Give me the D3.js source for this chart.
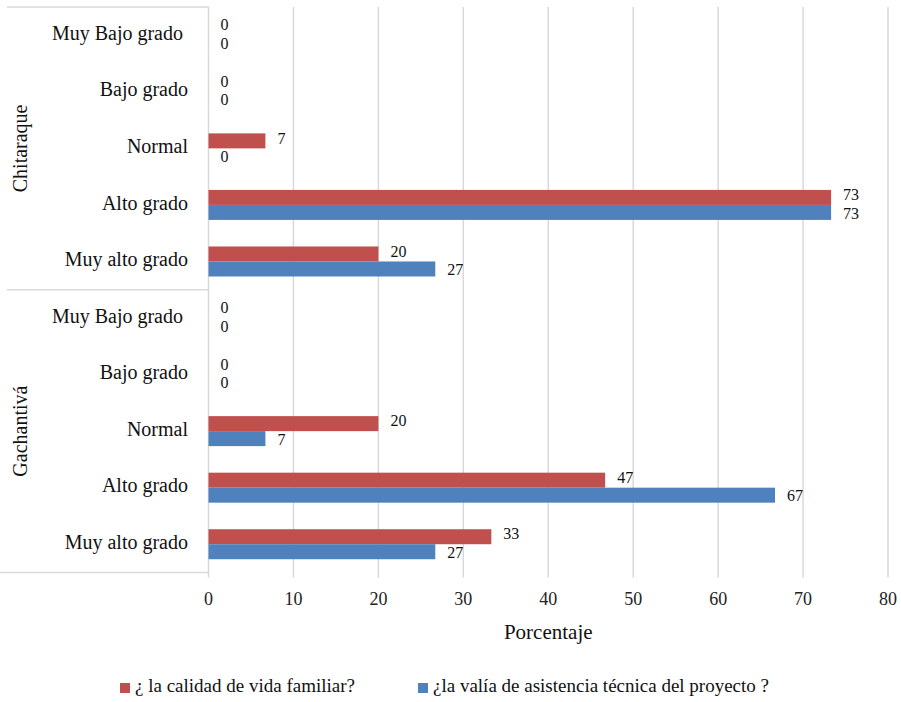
<!DOCTYPE html>
<html>
<head>
<meta charset="utf-8">
<script src="https://cdn.jsdelivr.net/npm/d3@7"></script>
<style>
  html, body { margin: 0; padding: 0; background: #fff; }
</style>
</head>
<body>
<svg id="chart" width="901" height="702"></svg>
<script>
// Survey results, percentage of respondents per rating, by municipality
const groups = ["Chitaraque", "Gachantivá"];
const categories = ["Muy Bajo grado ", "Bajo grado", "Normal", "Alto grado", "Muy alto grado"];
const seriesNames = ["¿ la calidad de vida familiar?", "¿la valía de asistencia técnica del proyecto ?"];
const seriesColors = ["#C0504D", "#4F81BD"];
// values per group, in category order
const calidadVida = [
  [0, 0, 6.7, 73.3, 20.0],   // Chitaraque
  [0, 0, 20.0, 46.7, 33.3]   // Gachantivá
];
const asistenciaTecnica = [
  [0, 0, 0, 73.3, 26.7],     // Chitaraque
  [0, 0, 6.7, 66.7, 26.7]    // Gachantivá
];
const xTicks = [0, 10, 20, 30, 40, 50, 60, 70, 80];

const FONT = "'Liberation Serif'";
const svg = d3.select("#chart");
const plot = { left: 208.5, right: 888, top: 7, bottom: 572.5 };
const boxLeft = 7;

const rows = [];
groups.forEach((g, gi) => {
  categories.forEach((c, ci) => {
    rows.push({ key: g + "|" + c, group: g, cat: c,
      values: [calidadVida[gi][ci], asistenciaTecnica[gi][ci]] });
  });
});

const x = d3.scaleLinear().domain([0, 80]).range([plot.left, plot.right]);
const y = d3.scaleBand().domain(rows.map(r => r.key)).range([plot.top, plot.bottom]);
const barH = 15;
const yInner = d3.scaleBand().domain([0, 1]).range([0, barH * 2]);
const fmt = d3.format(".0f");
const grey = "#d9d9d9";

// vertical gridlines and bottom ticks
svg.append("g").selectAll("line").data(xTicks.slice(1)).join("line")
  .attr("x1", d => x(d)).attr("x2", d => x(d))
  .attr("y1", plot.top).attr("y2", plot.bottom + 5)
  .attr("stroke", grey).attr("stroke-width", 1.5);

// tick labels
svg.append("g").selectAll("text").data(xTicks).join("text")
  .attr("x", d => x(d)).attr("y", 601)
  .attr("text-anchor", "middle").attr("dominant-baseline", "middle")
  .attr("font-size", 18).attr("fill", "#222")
  .style("font-family", FONT)
  .text(d => d);

// left frame: category box lines
const frame = svg.append("g").attr("stroke", grey).attr("stroke-width", 1.5);
frame.append("line").attr("x1", boxLeft).attr("x2", plot.left)
  .attr("y1", plot.top).attr("y2", plot.top);
frame.append("line").attr("x1", boxLeft).attr("x2", plot.left)
  .attr("y1", y(rows[5].key)).attr("y2", y(rows[5].key));
frame.append("line").attr("x1", boxLeft - 7).attr("x2", plot.left)
  .attr("y1", plot.bottom).attr("y2", plot.bottom);
frame.append("line").attr("x1", plot.left).attr("x2", plot.left)
  .attr("y1", plot.top).attr("y2", plot.bottom + 5);

// category labels
svg.append("g").selectAll("text").data(rows).join("text")
  .attr("x", 188).attr("y", d => y(d.key) + y.bandwidth() / 2)
  .attr("text-anchor", "end").attr("dominant-baseline", "middle")
  .attr("font-size", 20).attr("fill", "#111")
  .style("font-family", FONT).style("white-space", "pre")
  .text(d => d.cat);

// group labels (rotated)
groups.forEach((g, gi) => {
  const ys = rows.filter(r => r.group === g).map(r => y(r.key));
  const cy = (d3.min(ys) + d3.max(ys) + y.bandwidth()) / 2;
  svg.append("text")
    .attr("transform", `translate(22,${cy}) rotate(-90)`)
    .attr("text-anchor", "middle").attr("dominant-baseline", "middle")
    .attr("font-size", 20).attr("fill", "#111")
    .style("font-family", FONT)
    .text(g);
});

// bars
const rowG = svg.append("g").selectAll("g").data(rows).join("g")
  .attr("transform", d => `translate(0,${y(d.key) + (y.bandwidth() - barH * 2) / 2})`);

rowG.selectAll("rect").data(d => d.values.map((v, i) => ({ v, i }))).join("rect")
  .attr("x", x(0)).attr("y", d => yInner(d.i))
  .attr("width", d => x(d.v) - x(0)).attr("height", yInner.bandwidth())
  .attr("fill", d => seriesColors[d.i]);

// value labels, nudged apart so paired labels stay readable
rowG.selectAll("text").data(d => d.values.map((v, i) => ({ v, i }))).join("text")
  .attr("x", d => x(d.v) + 12)
  .attr("y", d => yInner(d.i) + yInner.bandwidth() / 2 + (d.i === 0 ? -1 : 2.5))
  .attr("dominant-baseline", "middle")
  .attr("font-size", 16).attr("fill", "#111")
  .style("font-family", FONT)
  .text(d => fmt(d.v));

// axis title
svg.append("text")
  .attr("x", (plot.left + plot.right) / 2).attr("y", 634)
  .attr("text-anchor", "middle").attr("dominant-baseline", "middle")
  .attr("font-size", 21).attr("fill", "#111")
  .style("font-family", FONT)
  .text("Porcentaje");

// legend
const legendX = [120, 418];
const legend = svg.append("g").selectAll("g").data(seriesNames).join("g")
  .attr("transform", (d, i) => `translate(${legendX[i]},688)`);
legend.append("rect").attr("x", 0).attr("y", -5).attr("width", 10).attr("height", 10)
  .attr("fill", (d, i) => seriesColors[i]);
legend.append("text").attr("x", 15).attr("y", 0)
  .attr("dominant-baseline", "middle")
  .attr("font-size", 19).attr("fill", "#111")
  .style("font-family", FONT)
  .text(d => d);
</script>
</body>
</html>
